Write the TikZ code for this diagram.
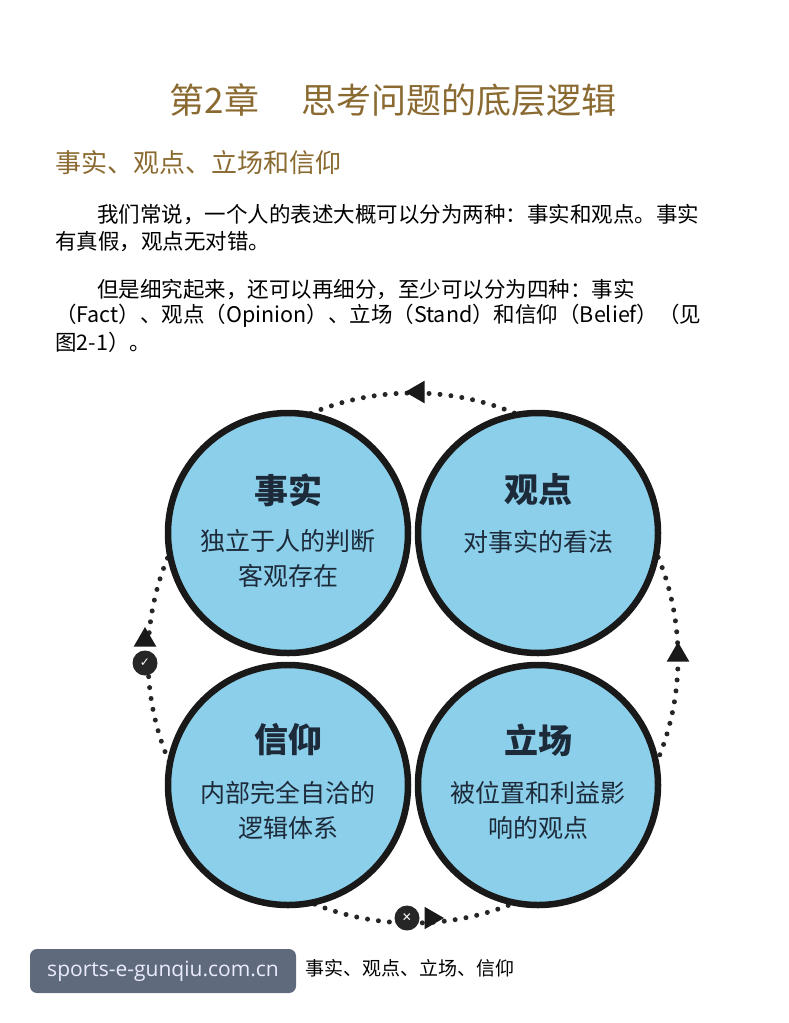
\documentclass[tikz,border=0pt]{standalone}
\usepackage{fontspec}
\newfontfamily\cjk{Noto Sans CJK SC}
\newfontfamily\dejavu{DejaVu Sans}
\usetikzlibrary{arrows.meta,shapes.geometric}
\definecolor{gold}{HTML}{8A6A30}
\definecolor{cfill}{HTML}{8CCFEA}
\definecolor{ink}{HTML}{1C2A3A}
\definecolor{wm}{HTML}{5F6B7C}
\begin{document}
\begin{tikzpicture}[x=1pt,y=-1pt,
  bub/.style={circle,draw=black!90,line width=6.5pt,fill=cfill,minimum size=240pt,inner sep=0pt},
  ttl/.style={font=\cjk\bfseries\fontsize{34}{38}\selectfont,text=ink},
  sub/.style={font=\cjk\fontsize{25}{35}\selectfont,text=ink,align=center},
  body/.style={anchor=west,font=\cjk\fontsize{21.5}{24}\selectfont,inner sep=0pt},
  tri/.style={fill=black!90,draw=none,regular polygon,regular polygon sides=3,minimum size=26pt,inner sep=0pt},
  badge/.style={circle,fill=black!85,minimum size=25pt,inner sep=0pt,text=white,font=\dejavu\bfseries\fontsize{12}{12}\selectfont}]
\useasboundingbox (0,0) rectangle (788,1023);
\fill[white] (0,0) rectangle (788,1023);
\node[font=\cjk\fontsize{35}{40}\selectfont,text=gold] (title) at (393,100) {第2章\hspace{1.2em}思考问题的底层逻辑};
\node[anchor=west,font=\cjk\fontsize{26}{30}\selectfont,text=gold,inner sep=0pt] (head) at (55,163) {事实、观点、立场和信仰};
\node[body] (l1) at (97,215) {我们常说，一个人的表述大概可以分为两种：事实和观点。事实};
\node[body] (l2) at (55,242) {有真假，观点无对错。};
\node[body] (l3) at (97,290) {但是细究起来，还可以再细分，至少可以分为四种：事实};
\node[body] (l4) at (55,316) {（Fact）、观点（Opinion）、立场（Stand）和信仰（Belief）（见};
\node[body] (l5) at (55,342) {图2-1）。};
\coordinate (o) at (413,658);
\draw[line width=5pt,dash pattern=on 0pt off 11pt,line cap=round,black!85] (o) circle (265);
\node[bub] (a) at (288,533) {};
\node[bub] (b) at (538,533) {};
\node[bub] (c) at (288,785) {};
\node[bub] (d) at (538,785) {};
\node[ttl] at (288,490) {事实};
\node[sub] at (288,558) {独立于人的判断\\客观存在};
\node[ttl] at (538,490) {观点};
\node[sub] at (538,542) {对事实的看法};
\node[ttl] at (288,740) {信仰};
\node[sub] at (288,810) {内部完全自洽的\\逻辑体系};
\node[ttl] at (538,740) {立场};
\node[sub] at (538,810) {被位置和利益影\\响的观点};
\node[tri,shape border rotate=90] (t1) at (418,392) {};
\node[tri] (t2) at (145,640) {};
\node[tri] (t3) at (678,655) {};
\node[tri,shape border rotate=-90] (t4) at (431,918) {};
\node[badge] (k1) at (145,663) {✓};
\node[badge] (k2) at (407,918) {✕};
\node[font=\cjk\fontsize{19}{22}\selectfont,anchor=west] (cap) at (240,968) {图2-1\hspace{0.8em}事实、观点、立场、信仰};
\node[fill=wm,rounded corners=7pt,minimum width=266pt,minimum height=44pt,text=white!92!blue,font=\fontspec{Open Sans}\fontsize{21}{24}\selectfont] (w) at (163,971) {sports-e-gunqiu.com.cn};
\end{tikzpicture}
\end{document}
